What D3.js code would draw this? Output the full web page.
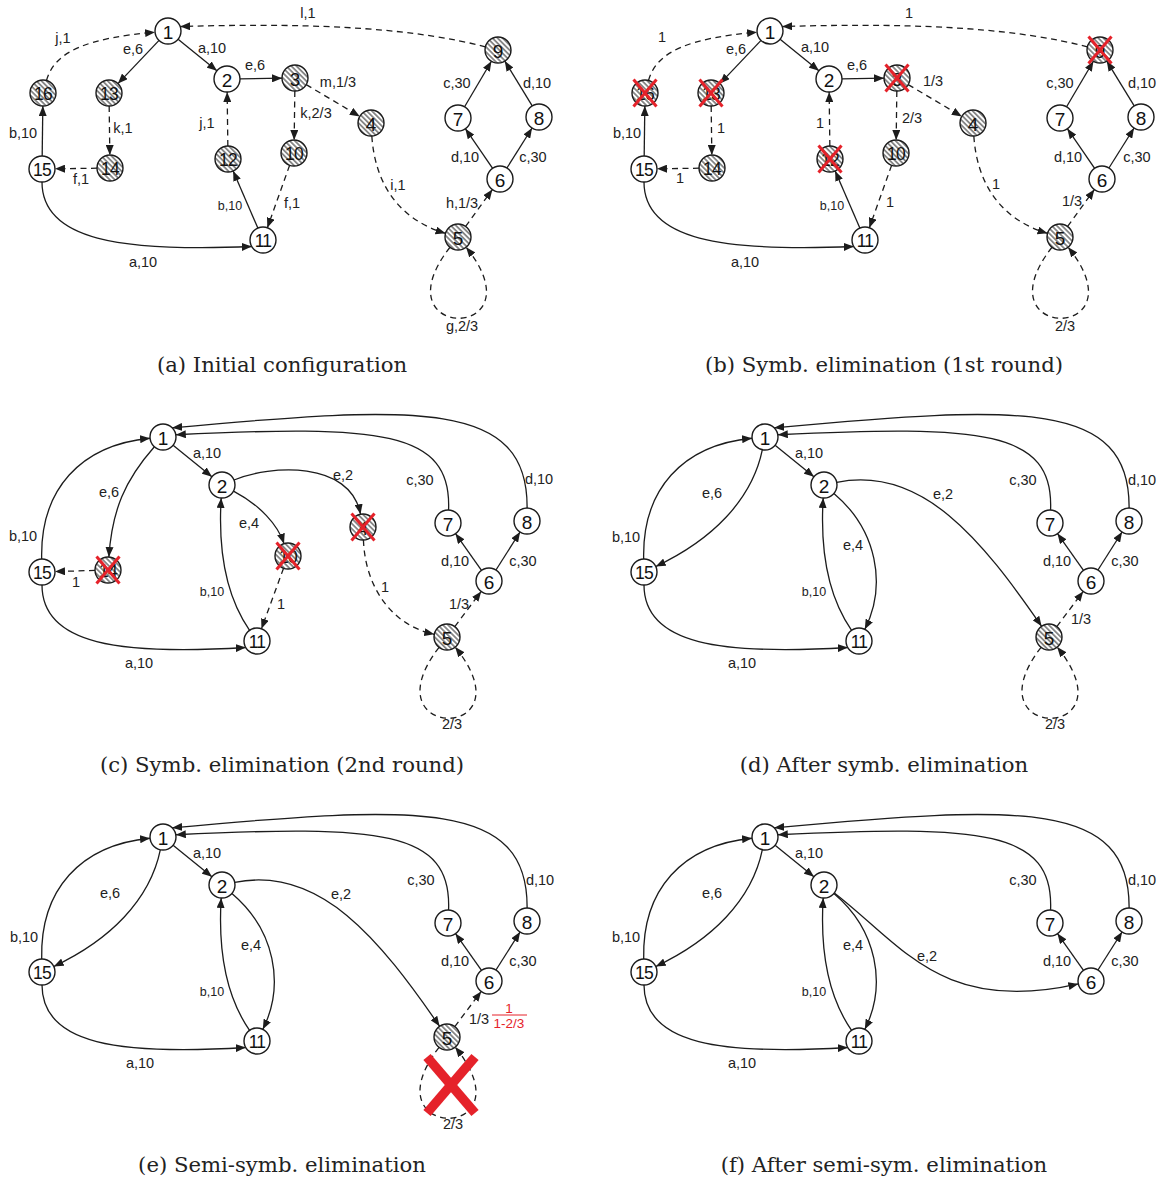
<!DOCTYPE html>
<html>
<head>
<meta charset="utf-8">
<script src="https://cdn.jsdelivr.net/npm/d3@7/dist/d3.min.js"></script>
<style>
  body { margin: 0; background: #fff; }
  svg text { font-family: "Liberation Sans", Arial, sans-serif; fill: #222; }
  .caption { font-family: "DejaVu Serif", "Liberation Serif", serif; }
</style>
</head>
<body>
<svg id="fig" width="1165" height="1180"></svg>
<script>
// ---------------- graph content ----------------
const nodesInitial = d3.range(1, 17).map(String);
const nodesRound2  = ["1", "2", "4", "5", "6", "7", "8", "10", "11", "14", "15"];
const nodesReduced = ["1", "2", "5", "6", "7", "8", "11", "15"];
const nodesFinal   = ["1", "2", "6", "7", "8", "11", "15"];

// probabilistic (hatched) states; edges leaving them are drawn dashed
const probInitial = ["3", "4", "5", "9", "10", "12", "13", "14", "16"];
const probRound2  = ["4", "5", "10", "14"];
const probReduced = ["5"];
const probFinal   = [];

const eliminatedRound1 = ["16", "13", "12", "3", "9"];
const eliminatedRound2 = ["14", "10", "4"];

// [source, target, label]
const edgesInitial = [
  ["1", "2", "a,10"], ["1", "13", "e,6"], ["2", "3", "e,6"], ["16", "1", "j,1"],
  ["15", "16", "b,10"], ["13", "14", "k,1"], ["14", "15", "f,1"], ["15", "11", "a,10"],
  ["11", "12", "b,10"], ["12", "2", "j,1"], ["3", "10", "k,2/3"], ["3", "4", "m,1/3"],
  ["10", "11", "f,1"], ["4", "5", "i,1"], ["5", "6", "h,1/3"], ["5", "5", "g,2/3"],
  ["6", "7", "d,10"], ["6", "8", "c,30"], ["7", "9", "c,30"], ["8", "9", "d,10"],
  ["9", "1", "l,1"]
];
const edgesRound1 = [
  ["1", "2", "a,10"], ["1", "13", "e,6"], ["2", "3", "e,6"], ["16", "1", "1"],
  ["15", "16", "b,10"], ["13", "14", "1"], ["14", "15", "1"], ["15", "11", "a,10"],
  ["11", "12", "b,10"], ["12", "2", "1"], ["3", "10", "2/3"], ["3", "4", "1/3"],
  ["10", "11", "1"], ["4", "5", "1"], ["5", "6", "1/3"], ["5", "5", "2/3"],
  ["6", "7", "d,10"], ["6", "8", "c,30"], ["7", "9", "c,30"], ["8", "9", "d,10"],
  ["9", "1", "1"]
];
const edgesRound2 = [
  ["1", "2", "a,10"], ["15", "1", "b,10"], ["1", "14", "e,6"], ["14", "15", "1"],
  ["15", "11", "a,10"], ["11", "2", "b,10"], ["2", "10", "e,4"], ["2", "4", "e,2"],
  ["10", "11", "1"], ["4", "5", "1"], ["5", "6", "1/3"], ["5", "5", "2/3"],
  ["6", "7", "d,10"], ["6", "8", "c,30"], ["7", "1", "c,30"], ["8", "1", "d,10"]
];
const edgesReduced = [
  ["1", "2", "a,10"], ["15", "1", "b,10"], ["1", "15", "e,6"], ["15", "11", "a,10"],
  ["11", "2", "b,10"], ["2", "11", "e,4"], ["2", "5", "e,2"], ["5", "6", "1/3"],
  ["5", "5", "2/3"], ["6", "7", "d,10"], ["6", "8", "c,30"], ["7", "1", "c,30"],
  ["8", "1", "d,10"]
];
const edgesFinal = [
  ["1", "2", "a,10"], ["15", "1", "b,10"], ["1", "15", "e,6"], ["15", "11", "a,10"],
  ["11", "2", "b,10"], ["2", "11", "e,4"], ["2", "6", "e,2"], ["6", "7", "d,10"],
  ["6", "8", "c,30"], ["7", "1", "c,30"], ["8", "1", "d,10"]
];

// self-loop factor 1/(1-2/3) written next to the 5 -> 6 edge
const loopFactorNum = "1";
const loopFactorDen = "1-2/3";

const captions = [
  "(a) Initial configuration",
  "(b) Symb. elimination (1st round)",
  "(c) Symb. elimination (2nd round)",
  "(d) After symb. elimination",
  "(e) Semi-symb. elimination",
  "(f) After semi-sym. elimination"
];

// ---------------- layout (panel-local coordinates) ----------------
const layoutAB = {
  "1": [168, 31], "2": [227, 79], "3": [295, 78], "4": [371, 123], "5": [458, 237],
  "6": [500, 179], "7": [458, 118], "8": [539, 117], "9": [498, 50], "10": [294, 153],
  "11": [263, 240], "12": [228, 159], "13": [109, 93], "14": [110, 168], "15": [42, 169],
  "16": [43, 93]
};
const layoutCF = {
  "1": [163, 37], "2": [222, 85], "4": [363, 127], "5": [447, 237], "6": [489, 181],
  "7": [448, 123], "8": [527, 121], "10": [288, 156], "11": [257, 241], "14": [108, 170],
  "15": [42, 172]
};

// cubic control points for curved edges; a0/a1 fix the attachment angle (deg)
const routesAB = {
  "16>1":  { c: [[55, 50], [90, 38]] },
  "9>1":   { c: [[420, 30], [330, 22]], a1: -20 },
  "15>11": { c: [[42, 240], [120, 252]], a1: 150 },
  "4>5":   { c: [[375, 185], [400, 220]] },
  "5>5":   { c: [[376, 342], [542, 342]] }
};
const routesCF = {
  "15>1":  { c: [[40, 90], [80, 45]] },
  "1>14":  { c: [[125, 80], [112, 110]] },
  "1>15":  { c: [[150, 100], [110, 140]] },
  "15>11": { c: [[42, 245], [120, 255]], a1: 150 },
  "11>2":  { c: [[225, 195], [218, 150]] },
  "2>10":  { c: [[260, 105], [278, 125]] },
  "2>11":  { c: [[275, 130], [285, 185]] },
  "2>4":   { c: [[270, 65], [350, 60]] },
  "2>5":   { c: [[320, 65], [380, 140]] },
  "2>6":   { c: [[300, 145], [340, 215]] },
  "4>5":   { c: [[365, 185], [390, 225]] },
  "7>1":   { c: [[452, 30], [380, 25]], a1: -10 },
  "8>1":   { c: [[528, 0], [420, 5]], a1: -45 },
  "5>5":   { c: [[366, 342], [532, 342]] }
};

// label centres per panel
const labelsA = {
  "1>2": [212, 48], "1>13": [133, 49], "2>3": [255, 65], "16>1": [63, 38],
  "15>16": [23, 133], "13>14": [123, 128], "14>15": [81, 179], "15>11": [143, 262],
  "11>12": [230, 206], "12>2": [207, 123], "3>10": [316, 113], "3>4": [338, 82],
  "10>11": [292, 203], "4>5": [398, 185], "5>6": [462, 203], "5>5": [462, 326],
  "6>7": [465, 157], "6>8": [533, 157], "7>9": [457, 83], "8>9": [537, 83],
  "9>1": [308, 13]
};
const labelsB = {
  "1>2": [213, 47], "1>13": [134, 49], "2>3": [255, 65], "16>1": [60, 37],
  "15>16": [25, 133], "13>14": [119, 128], "14>15": [78, 178], "15>11": [143, 262],
  "11>12": [230, 206], "12>2": [218, 123], "3>10": [310, 118], "3>4": [331, 81],
  "10>11": [288, 202], "4>5": [394, 184], "5>6": [470, 201], "5>5": [463, 326],
  "6>7": [466, 157], "6>8": [535, 157], "7>9": [458, 83], "8>9": [540, 83],
  "9>1": [307, 13]
};
const labelsC = {
  "1>2": [207, 53], "1>14": [109, 92], "15>1": [23, 136], "14>15": [76, 182],
  "2>10": [249, 123], "11>2": [212, 192], "10>11": [281, 204], "15>11": [139, 263],
  "2>4": [343, 75], "7>1": [420, 80], "8>1": [539, 79], "4>5": [385, 187],
  "5>6": [459, 204], "6>7": [455, 161], "6>8": [523, 161], "5>5": [452, 324]
};
const labelsDF = {
  "1>2": [207, 53], "1>15": [110, 93], "15>1": [24, 137], "2>11": [251, 145],
  "11>2": [212, 192], "15>11": [140, 263], "2>5": [341, 94], "7>1": [421, 80],
  "8>1": [540, 80], "6>7": [455, 161], "6>8": [523, 161], "5>6": [479, 219],
  "5>5": [453, 324], "2>6": [325, 156]
};
const smallLabels = ["11>12", "11>2"];

const panels = [
  { col: 0, row: 0, nodes: nodesInitial, prob: probInitial, edges: edgesInitial, pos: layoutAB, routes: routesAB, labels: labelsA, crossed: [] },
  { col: 1, row: 0, nodes: nodesInitial, prob: probInitial, edges: edgesRound1, pos: layoutAB, routes: routesAB, labels: labelsB, crossed: eliminatedRound1 },
  { col: 0, row: 1, nodes: nodesRound2, prob: probRound2, edges: edgesRound2, pos: layoutCF, routes: routesCF, labels: labelsC, crossed: eliminatedRound2 },
  { col: 1, row: 1, nodes: nodesReduced, prob: probReduced, edges: edgesReduced, pos: layoutCF, routes: routesCF, labels: labelsDF, crossed: [] },
  { col: 0, row: 2, nodes: nodesReduced, prob: probReduced, edges: edgesReduced, pos: layoutCF, routes: routesCF, labels: labelsDF, crossed: [], loopCut: true },
  { col: 1, row: 2, nodes: nodesFinal, prob: probFinal, edges: edgesFinal, pos: layoutCF, routes: routesCF, labels: labelsDF, crossed: [] }
];

// ---------------- drawing ----------------
const R = 13;           // node radius
const INK = "#1c1c1c";
const RED = "#e5222a";
const svg = d3.select("#fig");
const defs = svg.append("defs");

defs.append("marker")
  .attr("id", "arrow").attr("viewBox", "0 0 10 8")
  .attr("refX", 10).attr("refY", 4)
  .attr("markerWidth", 10).attr("markerHeight", 8)
  .attr("markerUnits", "userSpaceOnUse").attr("orient", "auto")
  .append("path").attr("d", "M0,0L10,4L0,8Z").attr("fill", INK);

const hatch = defs.append("pattern")
  .attr("id", "hatch").attr("patternUnits", "userSpaceOnUse")
  .attr("width", 3.6).attr("height", 3.6)
  .attr("patternTransform", "rotate(-45)");
hatch.append("rect").attr("width", 3.6).attr("height", 3.6).attr("fill", "#fff");
hatch.append("line").attr("x1", 0.9).attr("y1", 0).attr("x2", 0.9).attr("y2", 3.6)
  .attr("stroke", "#3a3a3a").attr("stroke-width", 1.1);

function boundary(c, toward, ang) {
  let ux, uy;
  if (ang != null) {
    ux = Math.cos(ang * Math.PI / 180); uy = Math.sin(ang * Math.PI / 180);
  } else {
    const dx = toward[0] - c[0], dy = toward[1] - c[1], L = Math.hypot(dx, dy);
    ux = dx / L; uy = dy / L;
  }
  return [c[0] + R * ux, c[1] + R * uy];
}

panels.forEach((p, i) => {
  const ox = p.col * 602, oy = p.row * 400;
  const x = d3.scaleLinear().domain([0, 560]).range([ox, ox + 560]);
  const y = d3.scaleLinear().domain([0, 400]).range([oy, oy + 400]);
  const g = svg.append("g");
  const isProb = id => p.prob.includes(id);

  // edges
  p.edges.forEach(e => {
    const key = e[0] + ">" + e[1];
    const a = p.pos[e[0]], b = p.pos[e[1]];
    const rt = p.routes[key];
    let d;
    if (rt) {
      const s = boundary(a, rt.c[0], rt.a0), t = boundary(b, rt.c[1], rt.a1);
      d = `M${x(s[0])},${y(s[1])}C${x(rt.c[0][0])},${y(rt.c[0][1])} ${x(rt.c[1][0])},${y(rt.c[1][1])} ${x(t[0])},${y(t[1])}`;
    } else {
      const s = boundary(a, b), t = boundary(b, a);
      d = `M${x(s[0])},${y(s[1])}L${x(t[0])},${y(t[1])}`;
    }
    g.append("path").attr("d", d)
      .attr("fill", "none").attr("stroke", INK).attr("stroke-width", 1.3)
      .attr("stroke-dasharray", isProb(e[0]) ? "6,4.5" : null)
      .attr("marker-end", "url(#arrow)");

    const lp = p.labels[key];
    if (lp) {
      g.append("text")
        .attr("x", x(lp[0])).attr("y", y(lp[1]))
        .attr("text-anchor", "middle").attr("dominant-baseline", "central")
        .attr("font-size", smallLabels.includes(key) ? 12.5 : 14.5)
        .text(e[2]);
    }
  });

  // nodes
  p.nodes.forEach(id => {
    const c = p.pos[id];
    g.append("circle").attr("cx", x(c[0])).attr("cy", y(c[1])).attr("r", R)
      .attr("fill", isProb(id) ? "url(#hatch)" : "#fff")
      .attr("stroke", INK).attr("stroke-width", 1.4);
    g.append("text").attr("x", x(c[0])).attr("y", y(c[1]) + 1)
      .attr("text-anchor", "middle").attr("dominant-baseline", "central")
      .attr("font-size", id.length > 1 ? 17.5 : 19)
      .attr("letter-spacing", id.length > 1 ? -0.8 : 0)
      .style("fill", "#111")
      .text(id);
    if (p.crossed.includes(id)) {
      [[-1, -1, 1, 1], [1, -1, -1, 1]].forEach(s => {
        g.append("line")
          .attr("x1", x(c[0] + s[0] * 11.5)).attr("y1", y(c[1] + s[1] * 13.5))
          .attr("x2", x(c[0] + s[2] * 11.5)).attr("y2", y(c[1] + s[3] * 13.5))
          .attr("stroke", RED).attr("stroke-width", 3);
      });
    }
  });

  // removal of the self-loop on state 5 and its normalisation factor
  if (p.loopCut) {
    const c5 = p.pos["5"];
    const cx = c5[0] + 4, cy = c5[1] + 48;
    [[-1, -1, 1, 1], [1, -1, -1, 1]].forEach(s => {
      g.append("line")
        .attr("x1", x(cx + s[0] * 24)).attr("y1", y(cy + s[1] * 28))
        .attr("x2", x(cx + s[2] * 24)).attr("y2", y(cy + s[3] * 28))
        .attr("stroke", RED).attr("stroke-width", 9.5);
    });
    const fx = 509, fy = 215;
    g.append("text").attr("x", x(fx)).attr("y", y(fy - 7))
      .attr("text-anchor", "middle").attr("dominant-baseline", "central")
      .attr("font-size", 13.5).style("fill", RED).text(loopFactorNum);
    g.append("line").attr("x1", x(fx - 17)).attr("x2", x(fx + 18))
      .attr("y1", y(fy)).attr("y2", y(fy))
      .attr("stroke", RED).attr("stroke-width", 1);
    g.append("text").attr("x", x(fx)).attr("y", y(fy + 8))
      .attr("text-anchor", "middle").attr("dominant-baseline", "central")
      .attr("font-size", 13.5).style("fill", RED).text(loopFactorDen);
  }

  // caption
  svg.append("text").attr("class", "caption")
    .attr("x", x(282)).attr("y", y(372))
    .attr("text-anchor", "middle").attr("font-size", 21.2)
    .text(captions[i]);
});
</script>
</body>
</html>
